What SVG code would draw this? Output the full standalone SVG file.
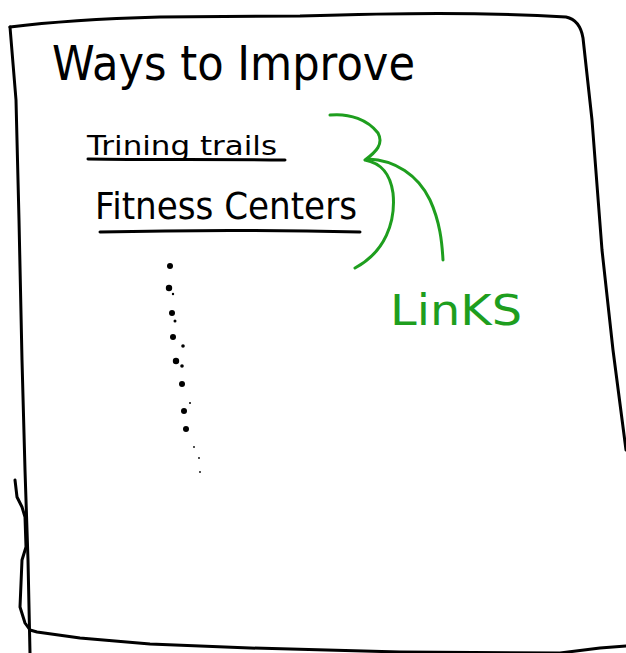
<svg xmlns="http://www.w3.org/2000/svg" width="626" height="653" viewBox="0 0 626 653">
<style>
.ink{fill:none;stroke:#000;stroke-width:3;stroke-linecap:round;stroke-linejoin:round}
.grn{fill:none;stroke:#1e9e1e;stroke-width:3;stroke-linecap:round;stroke-linejoin:round}
.hand{font-family:"DejaVu Sans","Liberation Sans",sans-serif;font-weight:normal}
.dot{fill:#000}
</style>
<rect width="626" height="653" fill="#fff"/>
<g id="frame">
<path class="ink" d="M10,27 C50,22 90,19 160,17 L300,16 C400,13 480,12 566,17 Q580,20 583,38 L592,120 L602,250 L613,350 L626,450"/>
<path class="ink" d="M10,27 L16,100 L19,220 L22,360 L25,470 L28,560 L30,653"/>
<path class="ink" d="M15,480 L17,497 L22,507 L25,517 L26,547 L22,560 L20,607 L25,623 L30,630 L37,632 L80,638 L150,644 L250,648 L400,652 L560,653 L600,648 L626,646"/>
</g>
<g id="title">
<text class="hand" x="52" y="80" font-size="48" textLength="363" lengthAdjust="spacingAndGlyphs">Ways to Improve</text>
</g>
<g id="training-trails">
<text class="hand" x="87" y="155" font-size="26" textLength="190" lengthAdjust="spacingAndGlyphs">Trining trails</text>
<path class="ink" d="M88,159 C150,160 220,159 285,160"/>
</g>
<g id="fitness-centers">
<text class="hand" x="95" y="219" font-size="38" textLength="262" lengthAdjust="spacingAndGlyphs">Fitness Centers</text>
<path class="ink" d="M100,232 C180,230 280,230 360,232"/>
</g>
<g id="more-dots">
<circle class="dot" cx="170" cy="266" r="3"/>
<circle class="dot" cx="169" cy="288" r="3.2"/>
<circle class="dot" cx="173" cy="294" r="1.2"/>
<circle class="dot" cx="172" cy="313" r="3"/>
<circle class="dot" cx="175" cy="321" r="1.5"/>
<circle class="dot" cx="173" cy="337" r="3"/>
<circle class="dot" cx="183" cy="346" r="1.8"/>
<circle class="dot" cx="176" cy="361" r="3.2"/>
<circle class="dot" cx="182" cy="366" r="1.8"/>
<circle class="dot" cx="182" cy="384" r="3"/>
<circle class="dot" cx="190" cy="403" r="1"/>
<circle class="dot" cx="184" cy="411" r="3"/>
<circle class="dot" cx="186" cy="429" r="3"/>
<circle class="dot" cx="194" cy="447" r="0.9"/>
<circle class="dot" cx="199" cy="458" r="0.9"/>
<circle class="dot" cx="200" cy="472" r="0.9"/>
</g>
<g id="links">
<text class="hand" x="390" y="325" font-size="42" fill="#1e9e1e" textLength="132" lengthAdjust="spacingAndGlyphs">LinKS</text>
</g>
<g id="connectors">
<path class="grn" d="M330,115 C350,113 368,120 378,133 C384,144 376,152 365,160 C380,163 390,172 393,193 C396,222 385,252 355,268"/>
<path class="grn" d="M368,159 C395,160 418,175 430,200 C440,222 442,242 443,260"/>
</g>
</svg>
